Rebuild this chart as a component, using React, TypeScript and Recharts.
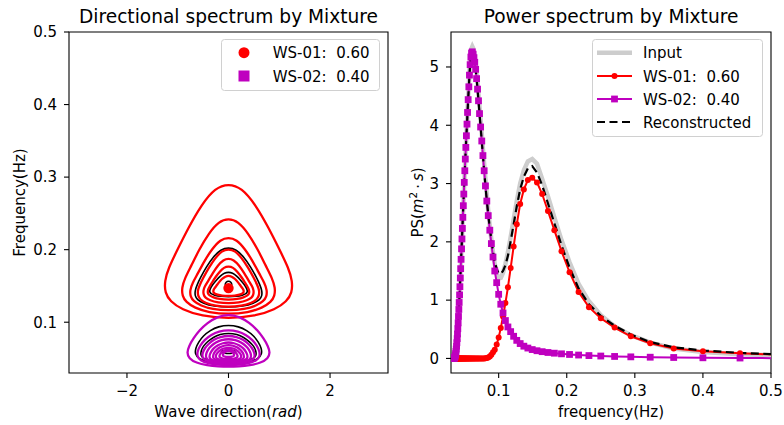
import React from 'react'
import { LineChart, Line, XAxis, YAxis, ReferenceArea, ReferenceDot } from 'recharts'

const FONT = '"DejaVu Sans", Verdana, sans-serif'
const RED = '#ff0000'
const MAGENTA = '#bf00bf'
const GRAY = '#cdcdcd'

// power spectrum samples (Hz) and values (m^2 s)
const freq = [
  0.0305, 0.0308, 0.0311, 0.0313, 0.0316, 0.0319, 0.0323, 0.0326, 0.0329, 0.0332, 0.0336, 0.0339, 0.0342,
  0.0346, 0.035, 0.0353, 0.0357, 0.0361, 0.0365, 0.0369, 0.0373, 0.0377, 0.0382, 0.0386, 0.0391, 0.0395,
  0.04, 0.0405, 0.041, 0.0415, 0.042, 0.0426, 0.0431, 0.0437, 0.0442, 0.0448, 0.0455, 0.0461, 0.0467,
  0.0474, 0.0481, 0.0488, 0.0495, 0.0503, 0.051, 0.0518, 0.0526, 0.0535, 0.0543, 0.0552, 0.0562, 0.0571,
  0.0581, 0.0592, 0.0602, 0.0613, 0.0625, 0.0637, 0.0649, 0.0662, 0.0676, 0.069, 0.0704, 0.0719, 0.0735,
  0.0752, 0.0769, 0.0787, 0.0806, 0.0826, 0.0847, 0.087, 0.0893, 0.0917, 0.0943, 0.0971, 0.1, 0.1031,
  0.1064, 0.1099, 0.1136, 0.1176, 0.122, 0.1266, 0.1316, 0.137, 0.1429, 0.1493, 0.1563, 0.1639, 0.1724,
  0.1818, 0.1923, 0.2041, 0.2174, 0.2326, 0.25, 0.2703, 0.2941, 0.3226, 0.3571, 0.4, 0.4545, 0.5263,
]

const inputPS = [
  0, 0, 0, 0, 0, 0, 0, 0, 0, 0, 0, 0, 0.002,
  0.005, 0.01, 0.015, 0.025, 0.04, 0.06, 0.085, 0.12, 0.16, 0.21, 0.27, 0.34, 0.42,
  0.51, 0.61, 0.72, 0.84, 0.96, 1.09, 1.23, 1.38, 1.54, 1.7, 1.88, 2.05, 2.23,
  2.42, 2.62, 2.82, 3.02, 3.22, 3.42, 3.62, 3.83, 4.04, 4.25, 4.48, 4.7, 4.92,
  5.1, 5.24, 5.32, 5.35, 5.32, 5.25, 5.15, 5.04, 4.9, 4.73, 4.53, 4.32, 4.09,
  3.85, 3.6, 3.34, 3.07, 2.8, 2.53, 2.27, 2.04, 1.82, 1.62, 1.46, 1.37, 1.38,
  1.47, 1.62, 1.82, 2.08, 2.38, 2.7, 3.0, 3.23, 3.38, 3.42, 3.34, 3.08, 2.78,
  2.42, 2.03, 1.65, 1.28, 0.98, 0.74, 0.55, 0.4, 0.27, 0.17, 0.11, 0.07, 0.045,
]

const ws01PS = [
  0, 0, 0, 0, 0, 0, 0, 0, 0, 0, 0, 0, 0,
  0, 0, 0, 0, 0, 0, 0, 0, 0, 0, 0, 0, 0,
  0, 0, 0, 0, 0, 0, 0, 0, 0, 0, 0, 0, 0,
  0, 0, 0, 0, 0, 0, 0, 0, 0, 0, 0, 0, 0,
  0, 0, 0, 0, 0, 0, 0, 0, 0, 0, 0, 0, 0,
  0, 0, 0, 0.002, 0.006, 0.015, 0.035, 0.065, 0.105, 0.15, 0.24, 0.36, 0.52,
  0.72, 0.95, 1.22, 1.55, 1.92, 2.3, 2.65, 2.9, 3.06, 3.1, 3.02, 2.82, 2.53,
  2.2, 1.84, 1.48, 1.14, 0.88, 0.69, 0.53, 0.38, 0.26, 0.17, 0.125, 0.088, 0.058,
]

const ws02PS = [
  0, 0, 0, 0, 0, 0, 0, 0, 0, 0, 0, 0, 0.002,
  0.005, 0.01, 0.015, 0.025, 0.04, 0.06, 0.085, 0.12, 0.16, 0.21, 0.27, 0.34, 0.42,
  0.51, 0.61, 0.72, 0.84, 0.96, 1.09, 1.23, 1.38, 1.54, 1.7, 1.88, 2.05, 2.23,
  2.42, 2.62, 2.82, 3.02, 3.22, 3.42, 3.62, 3.82, 4.02, 4.22, 4.44, 4.66, 4.86,
  5.04, 5.17, 5.24, 5.26, 5.22, 5.16, 5.08, 4.96, 4.8, 4.62, 4.42, 4.2, 3.97,
  3.73, 3.48, 3.22, 2.96, 2.7, 2.45, 2.2, 1.97, 1.74, 1.5, 1.3, 1.1, 0.93,
  0.78, 0.65, 0.54, 0.46, 0.38, 0.31, 0.255, 0.21, 0.178, 0.152, 0.132, 0.116, 0.102,
  0.09, 0.079, 0.068, 0.058, 0.049, 0.041, 0.034, 0.027, 0.021, 0.016, 0.011, 0.007, 0.004,
]

const reconPS = [
  0, 0, 0, 0, 0, 0, 0, 0, 0, 0, 0, 0, 0.002,
  0.005, 0.01, 0.015, 0.025, 0.04, 0.06, 0.085, 0.12, 0.16, 0.21, 0.27, 0.34, 0.42,
  0.51, 0.61, 0.72, 0.84, 0.96, 1.09, 1.23, 1.38, 1.54, 1.7, 1.88, 2.05, 2.23,
  2.42, 2.62, 2.82, 3.02, 3.22, 3.42, 3.62, 3.82, 4.02, 4.22, 4.44, 4.66, 4.86,
  5.04, 5.17, 5.24, 5.26, 5.22, 5.16, 5.08, 4.96, 4.8, 4.62, 4.42, 4.2, 3.97,
  3.73, 3.48, 3.22, 2.96, 2.71, 2.47, 2.24, 2.04, 1.85, 1.65, 1.54, 1.46, 1.45,
  1.5, 1.6, 1.76, 2.01, 2.3, 2.61, 2.9, 3.12, 3.26, 3.3, 3.19, 2.97, 2.66,
  2.32, 1.94, 1.56, 1.2, 0.93, 0.73, 0.56, 0.41, 0.28, 0.19, 0.136, 0.095, 0.064,
]

// contour half-profiles, top to bottom: [frequency (Hz), half width (rad)]
const ws01Contours = [
  [[0.291, 0], [0.2852, 0.26], [0.2622, 0.53], [0.2301, 0.79], [0.1979, 1.02], [0.1749, 1.18], [0.1566, 1.26], [0.1404, 1.25], [0.129, 1.15], [0.1174, 0.92], [0.1083, 0.53], [0.105, 0]],
  [[0.243, 0], [0.2389, 0.19], [0.2225, 0.39], [0.1998, 0.58], [0.1769, 0.74], [0.1606, 0.86], [0.1476, 0.92], [0.1361, 0.91], [0.128, 0.84], [0.1198, 0.67], [0.1134, 0.39], [0.111, 0]],
  [[0.217, 0], [0.2139, 0.16], [0.2013, 0.32], [0.184, 0.48], [0.1664, 0.61], [0.154, 0.71], [0.144, 0.76], [0.1352, 0.75], [0.129, 0.69], [0.1228, 0.55], [0.1178, 0.32], [0.116, 0]],
  [[0.201, 0], [0.1985, 0.13], [0.1886, 0.26], [0.1748, 0.39], [0.1609, 0.5], [0.151, 0.57], [0.1432, 0.61], [0.1362, 0.6], [0.1313, 0.56], [0.1264, 0.45], [0.1224, 0.26], [0.121, 0]],
  [[0.188, 0], [0.1861, 0.1], [0.1784, 0.21], [0.1677, 0.31], [0.1569, 0.4], [0.1493, 0.47], [0.1432, 0.5], [0.1378, 0.49], [0.134, 0.46], [0.1302, 0.37], [0.1271, 0.21], [0.126, 0]],
  [[0.177, 0], [0.1756, 0.09], [0.1699, 0.17], [0.162, 0.26], [0.154, 0.33], [0.1483, 0.38], [0.1437, 0.41], [0.1397, 0.41], [0.1369, 0.38], [0.1341, 0.3], [0.1318, 0.18], [0.131, 0]],
  [[0.164, 0], [0.1632, 0.06], [0.1598, 0.13], [0.1549, 0.19], [0.15, 0.24], [0.1465, 0.28], [0.1438, 0.3], [0.1413, 0.3], [0.1396, 0.28], [0.1379, 0.22], [0.1365, 0.13], [0.136, 0]],
]

const ws02Contours = [
  [[0.111, 0], [0.1075, 0.22], [0.099, 0.42], [0.089, 0.57], [0.078, 0.69], [0.067, 0.78], [0.058, 0.82], [0.05, 0.78], [0.044, 0.64], [0.0405, 0.42], [0.039, 0.2], [0.0385, 0]],
  [[0.0894, 0], [0.0874, 0.19], [0.0826, 0.34], [0.0757, 0.47], [0.0679, 0.56], [0.0601, 0.61], [0.0532, 0.62], [0.0473, 0.56], [0.0434, 0.4], [0.0412, 0.19], [0.0405, 0]],
  [[0.0815, 0], [0.0799, 0.16], [0.076, 0.29], [0.0704, 0.39], [0.0641, 0.47], [0.0578, 0.51], [0.0523, 0.52], [0.0475, 0.47], [0.0444, 0.34], [0.0426, 0.16], [0.042, 0]],
  [[0.077, 0], [0.0756, 0.14], [0.0722, 0.25], [0.0675, 0.34], [0.062, 0.41], [0.0566, 0.44], [0.0518, 0.45], [0.0478, 0.41], [0.045, 0.29], [0.0435, 0.14], [0.043, 0]],
  [[0.0724, 0], [0.0713, 0.11], [0.0684, 0.21], [0.0644, 0.29], [0.0599, 0.34], [0.0554, 0.37], [0.0514, 0.38], [0.048, 0.34], [0.0457, 0.25], [0.0444, 0.11], [0.044, 0]],
  [[0.0687, 0], [0.0678, 0.09], [0.0655, 0.17], [0.0622, 0.23], [0.0585, 0.28], [0.0548, 0.3], [0.0515, 0.31], [0.0487, 0.28], [0.0469, 0.2], [0.0458, 0.09], [0.0455, 0]],
  [[0.065, 0], [0.0643, 0.08], [0.0625, 0.14], [0.06, 0.19], [0.0571, 0.23], [0.0542, 0.25], [0.0517, 0.25], [0.0495, 0.23], [0.0481, 0.16], [0.0473, 0.08], [0.047, 0]],
  [[0.0622, 0], [0.0617, 0.05], [0.0604, 0.1], [0.0585, 0.14], [0.0564, 0.16], [0.0543, 0.18], [0.0524, 0.18], [0.0508, 0.16], [0.0498, 0.12], [0.0492, 0.05], [0.049, 0]],
  [[0.0604, 0], [0.0601, 0.03], [0.0592, 0.06], [0.058, 0.08], [0.0567, 0.1], [0.0554, 0.11], [0.0542, 0.11], [0.0532, 0.1], [0.0525, 0.07], [0.0521, 0.03], [0.052, 0]],
]

const reconContours = [
  [[0.203, 0], [0.2005, 0.15], [0.1903, 0.3], [0.176, 0.44], [0.1617, 0.55], [0.1515, 0.62], [0.1434, 0.66], [0.1362, 0.66], [0.1312, 0.62], [0.1261, 0.5], [0.122, 0.29], [0.1205, 0]],
  [[0.169, 0], [0.168, 0.08], [0.1637, 0.16], [0.1578, 0.24], [0.1519, 0.31], [0.1477, 0.35], [0.1443, 0.37], [0.1414, 0.37], [0.1393, 0.35], [0.1372, 0.28], [0.1355, 0.16], [0.135, 0]],
  [[0.157, 0], [0.1555, 0.05], [0.152, 0.07], [0.149, 0.05], [0.148, 0]],
  [[0.0963, 0], [0.0941, 0.2], [0.0887, 0.36], [0.0811, 0.5], [0.0725, 0.59], [0.0639, 0.65], [0.0562, 0.66], [0.0497, 0.59], [0.0452, 0.43], [0.0428, 0.2], [0.042, 0]],
  [[0.085, 0], [0.0834, 0.17], [0.0793, 0.3], [0.0735, 0.41], [0.067, 0.5], [0.0604, 0.54], [0.0547, 0.55], [0.0497, 0.5], [0.0465, 0.36], [0.0446, 0.17], [0.044, 0]],
  [[0.0622, 0], [0.0612, 0.1], [0.0597, 0.15], [0.0582, 0.13], [0.0572, 0.07], [0.0568, 0]],
]

const ws01Peak = { dir: 0, freq: 0.147 }

const dirTicks = [-2, 0, 2]
const dirFreqTicks = [0.1, 0.2, 0.3, 0.4, 0.5]
const psFreqTicks = [0.1, 0.2, 0.3, 0.4, 0.5]
const psTicks = [0, 1, 2, 3, 4, 5]

// closed loop (right side down, left side back up) from a symmetric half-profile
function toLoop(profile: number[][]) {
  const right = profile.map(([f, w]) => ({ x: w, y: f }))
  const left = profile.slice(1, -1).reverse().map(([f, w]) => ({ x: -w, y: f }))
  return [...right, ...left]
}

const psRows = freq.map((f, i) => ({
  f,
  input: inputPS[i],
  ws01: ws01PS[i],
  ws02: ws02PS[i],
  recon: reconPS[i],
}))

const tickStyle = { fill: '#000', fontSize: 15, fontFamily: FONT }
const tickLine = { stroke: '#000', strokeWidth: 1.1 }

const SquareDot = (props: any) => {
  const { cx, cy, index } = props
  if (cx == null || cy == null) return null
  return <rect key={`sq-${index}`} x={cx - 3.4} y={cy - 3.4} width={6.8} height={6.8} fill={MAGENTA} />
}

function Overlay() {
  const txt = { fontFamily: FONT, fontSize: 15, fill: '#000' }
  return (
    <svg width={784} height={425} style={{ position: 'absolute', left: 0, top: 0, pointerEvents: 'none' }}>
      <text x={228.5} y={22.5} textAnchor="middle" style={{ ...txt, fontSize: 18.6 }}>Directional spectrum by Mixture</text>
      <text x={611} y={22.5} textAnchor="middle" style={{ ...txt, fontSize: 18.6 }}>Power spectrum by Mixture</text>

      <text x={228.5} y={417} textAnchor="middle" style={txt}>
        Wave direction(<tspan fontStyle="italic">rad</tspan>)
      </text>
      <text x={611} y={417} textAnchor="middle" style={txt}>frequency(Hz)</text>

      <text transform="translate(24.5,202.5) rotate(-90)" textAnchor="middle" style={txt}>Frequency(Hz)</text>
      <text transform="translate(423,202.5) rotate(-90)" textAnchor="middle" style={txt}>
        PS(<tspan fontStyle="italic">m</tspan>
        <tspan dy={-6} fontSize={10.5}>2</tspan>
        <tspan dy={6}>{'\u2009\u22c5\u2009'}</tspan>
        <tspan fontStyle="italic">s</tspan>)
      </text>

      {/* left legend */}
      <rect x={221.5} y={39.5} width={158} height={51} rx={3} fill="#fff" fillOpacity={0.8} stroke="#d0d0d0" />
      <circle cx={244} cy={52.7} r={5.5} fill={RED} />
      <text x={272.7} y={58.2} style={{ ...txt, whiteSpace: 'pre' }}>{'WS-01:  0.60'}</text>
      <rect x={238.5} y={70.5} width={11} height={11} fill={MAGENTA} />
      <text x={272.7} y={81.5} style={{ ...txt, whiteSpace: 'pre' }}>{'WS-02:  0.40'}</text>

      {/* right legend */}
      <rect x={592.5} y={39.5} width={170} height={97} rx={3} fill="#fff" fillOpacity={0.8} stroke="#d0d0d0" />
      <line x1={597} x2={632} y1={52.7} y2={52.7} stroke={GRAY} strokeWidth={4.5} />
      <text x={643} y={58.2} style={txt}>Input</text>
      <line x1={597} x2={632} y1={76} y2={76} stroke={RED} strokeWidth={2} />
      <circle cx={614.5} cy={76} r={3} fill={RED} />
      <text x={643} y={81.5} style={{ ...txt, whiteSpace: 'pre' }}>{'WS-01:  0.60'}</text>
      <line x1={597} x2={632} y1={99} y2={99} stroke={MAGENTA} strokeWidth={2} />
      <rect x={611.1} y={95.6} width={6.8} height={6.8} fill={MAGENTA} />
      <text x={643} y={104.5} style={{ ...txt, whiteSpace: 'pre' }}>{'WS-02:  0.40'}</text>
      <line x1={597} x2={632} y1={122} y2={122} stroke="#000" strokeWidth={2.2} strokeDasharray="8 4.5" />
      <text x={643} y={127.5} style={txt}>Reconstructed</text>
    </svg>
  )
}

export default function App() {
  return (
    <div style={{ position: 'absolute', left: 0, top: 0, width: 784, height: 425, background: '#fff', fontFamily: FONT }}>
      <div style={{ position: 'absolute', left: 0, top: 0 }}>
        <LineChart width={392} height={425} margin={{ top: 32, right: 4, bottom: 0, left: 0 }}>
          <XAxis
            type="number"
            dataKey="x"
            domain={[-Math.PI, Math.PI]}
            allowDataOverflow
            ticks={dirTicks}
            interval={0}
            tickFormatter={(v: number) => (v < 0 ? '\u2212' + Math.abs(v) : String(v))}
            height={52}
            tickSize={5}
            tickMargin={7}
            axisLine={false}
            tickLine={tickLine}
            tick={tickStyle}
          />
          <YAxis
            type="number"
            domain={[0.03, 0.5]}
            allowDataOverflow
            ticks={dirFreqTicks}
            interval={0}
            tickFormatter={(v: number) => v.toFixed(1)}
            width={69}
            tickSize={5}
            tickMargin={7}
            axisLine={false}
            tickLine={tickLine}
            tick={tickStyle}
          />
          {reconContours.map((p, i) => (
            <Line key={`b${i}`} data={toLoop(p)} dataKey="y" type="basisClosed" stroke="#000" strokeWidth={1.6}
              dot={false} activeDot={false} legendType="none" isAnimationActive={false} />
          ))}
          {ws01Contours.map((p, i) => (
            <Line key={`r${i}`} data={toLoop(p)} dataKey="y" type="basisClosed" stroke={RED} strokeWidth={2.3}
              dot={false} activeDot={false} legendType="none" isAnimationActive={false} />
          ))}
          {ws02Contours.map((p, i) => (
            <Line key={`m${i}`} data={toLoop(p)} dataKey="y" type="basisClosed" stroke={MAGENTA} strokeWidth={2.3}
              dot={false} activeDot={false} legendType="none" isAnimationActive={false} />
          ))}
          <ReferenceDot x={ws01Peak.dir} y={ws01Peak.freq} r={5.2} fill={RED} stroke="none" />
          <ReferenceArea x1={-Math.PI} x2={Math.PI} y1={0.03} y2={0.5} fill="none" stroke="#000" strokeWidth={1.1} ifOverflow="visible" />
        </LineChart>
      </div>

      <div style={{ position: 'absolute', left: 392, top: 0 }}>
        <LineChart width={392} height={425} data={psRows} margin={{ top: 32, right: 13, bottom: 0, left: 0 }}>
          <XAxis
            type="number"
            dataKey="f"
            domain={[0.03, 0.5]}
            allowDataOverflow
            ticks={psFreqTicks}
            interval={0}
            tickFormatter={(v: number) => v.toFixed(1)}
            height={52}
            tickSize={5}
            tickMargin={7}
            axisLine={false}
            tickLine={tickLine}
            tick={tickStyle}
          />
          <YAxis
            type="number"
            domain={[-0.25, 5.6]}
            allowDataOverflow
            ticks={psTicks}
            interval={0}
            width={59}
            tickSize={5}
            tickMargin={7}
            axisLine={false}
            tickLine={tickLine}
            tick={tickStyle}
          />
          <Line dataKey="input" type="linear" stroke={GRAY} strokeWidth={4.5} dot={false} activeDot={false} isAnimationActive={false} />
          <Line dataKey="ws01" type="linear" stroke={RED} strokeWidth={2}
            dot={{ r: 3, fill: RED, stroke: 'none', strokeWidth: 0 }} activeDot={false} isAnimationActive={false} />
          <Line dataKey="ws02" type="linear" stroke={MAGENTA} strokeWidth={2} dot={SquareDot} activeDot={false} isAnimationActive={false} />
          <Line dataKey="recon" type="linear" stroke="#000" strokeWidth={2.2} strokeDasharray="8 4.5" dot={false} activeDot={false} isAnimationActive={false} />
          <ReferenceArea x1={0.03} x2={0.5} y1={-0.25} y2={5.6} fill="none" stroke="#000" strokeWidth={1.1} ifOverflow="visible" />
        </LineChart>
      </div>

      <Overlay />
    </div>
  )
}
